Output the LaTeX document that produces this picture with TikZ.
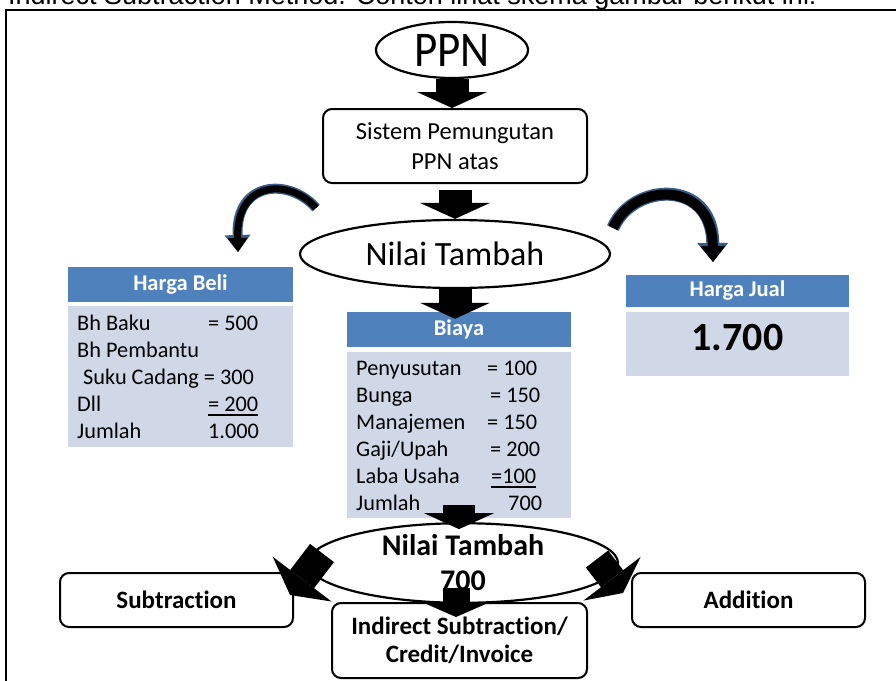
\documentclass[tikz,border=0pt]{standalone}
\usepackage{fontspec}
\usepackage{graphicx}
\setmainfont{Carlito}[Ligatures=NoCommon]
\newfontfamily\arialf{Liberation Sans}
\usetikzlibrary{arrows.meta,shapes.geometric,calc}
\definecolor{hdr}{HTML}{4F81BD}
\definecolor{bdy}{HTML}{D0D8E8}
\definecolor{outl}{HTML}{385D8A}
\newcommand\fs[2]{\fontsize{#1}{#2}\selectfont}
\newcommand\myul[1]{\setbox0\hbox{#1}\rlap{\rule[-4.5pt]{\wd0}{1.8pt}}\box0}
\begin{document}
\begin{tikzpicture}[x=1pt,y=-1pt,
  frame/.style={line width=2pt},
  oval/.style={ellipse, draw, line width=2.2pt, fill=white, inner sep=0pt},
  rbox/.style={rectangle, rounded corners=9pt, draw, line width=2pt, fill=white, inner sep=0pt, align=center},
  hbox/.style={rectangle, fill=hdr, text=white, font=\bfseries\fs{22.5}{26}, inner sep=0pt},
  bbox/.style={rectangle, fill=bdy, inner sep=0pt},
  tabtxt/.style={anchor=north west, inner sep=0pt, font=\fs{22.3}{27}},
  blockarrow/.style={line width=33pt, -{Triangle[length=16pt 0 0, width=70pt 0 0, line width=0pt]}},
  sidearrow/.style={line width=30pt, -{Triangle[length=20pt 0 0, width=74pt 0 0, line width=0pt]}},
  curvebgL/.style={draw=outl, line width=10pt, -{Triangle[length=17pt 0 0, width=26pt 0 0, line width=0pt]}},
  curvefgL/.style={draw=black, line width=7pt, -{Triangle[length=14pt 0 0, width=20pt 0 0, line width=0pt]}},
  curvebgR/.style={draw=outl, line width=13pt, -{Triangle[length=19pt 0 0, width=31pt 0 0, line width=0pt]}},
  curvefgR/.style={draw=black, line width=10pt, -{Triangle[length=16pt 0 0, width=25pt 0 0, line width=0pt]}}
]
\useasboundingbox (0,0) rectangle (896,680);
\node[anchor=base west, inner sep=0pt, font=\arialf\fs{27}{32}] (title) at (8,5) {Indirect Subtraction Method. Contoh lihat skema gambar berikut ini:};
\draw[frame] (900,10) -- (6,10) -- (6,690);

% tables
\node[hbox, minimum width=225pt, minimum height=35pt] (belih) at (180.5,284.5) {Harga Beli};
\node[bbox, minimum width=225pt, minimum height=141pt] (belib) at (180.5,376.5) {};
\node[tabtxt] (belit) at (77,311) {\begin{tabular}{@{}p{131pt}@{}l@{}}Bh Baku & = 500\\ Bh Pembantu & \\ \multicolumn{2}{@{}l@{}}{\hspace*{6pt}Suku Cadang = 300}\\ Dll & \myul{= 200}\\ Jumlah & 1.000\end{tabular}};

\node[hbox, minimum width=224pt, minimum height=35pt] (biayah) at (459,329.5) {Biaya};
\node[bbox, minimum width=224pt, minimum height=166pt] (biayab) at (459,435) {};
\node[tabtxt] (biayat) at (356,356) {\begin{tabular}{@{}p{131pt}@{}l@{}}Penyusutan & = 100\\ Bunga & \hspace*{3pt}= 150\\ Manajemen & = 150\\ Gaji/Upah & \hspace*{3pt}= 200\\ Laba Usaha & \hspace*{4pt}\myul{=100}\\ Jumlah & \hspace*{21pt}700\end{tabular}};

\node[hbox, minimum width=223pt, minimum height=32pt] (jualh) at (737.5,291) {Harga Jual};
\node[bbox, minimum width=223pt, minimum height=64pt] (jualb) at (737.5,344) {};
\node[inner sep=0pt, font=\bfseries\fs{40}{48}] (jualv) at (737.5,338) {1.700};

% ellipses and boxes
\node[oval, minimum width=152pt, minimum height=56pt, font=\fs{50}{60}] (ppn) at (452,50) {\scalebox{0.9}[1]{PPN}};
\node[rbox, minimum width=264pt, minimum height=74pt, font=\fs{24.5}{30}] (sistem) at (455,146) {Sistem Pemungutan\\PPN atas};
\node[oval, minimum width=310pt, minimum height=68pt, font=\fs{34}{40}] (nt1) at (455,254) {Nilai Tambah};
\node[oval, minimum width=310pt, minimum height=68pt, font=\bfseries\fs{30}{35}, align=center] (nt2) at (463,563) {Nilai Tambah\\700};
\node[rbox, minimum width=233pt, minimum height=54pt, font=\bfseries\fs{25}{29}] (subtr) at (176.5,600) {Subtraction};
\node[rbox, minimum width=233pt, minimum height=54pt, font=\bfseries\fs{25}{29}] (addit) at (748.5,600) {Addition};
\node[rbox, minimum width=255pt, minimum height=75pt, font=\bfseries\fs{25}{28}] (indir) at (459.5,640.5) {Indirect Subtraction/\\Credit/Invoice};

% block arrows
\draw[blockarrow] (ppn.south) -- (ppn.south |- sistem.north);
\draw[blockarrow] ($(sistem.south)+(0,6)$) -- (sistem.south |- nt1.north);
\draw[blockarrow] (nt1.south) -- ($(nt1.south |- biayah.north)+(0,7)$);
\coordinate (b4) at (459,505);
\draw[blockarrow, line width=32pt] (b4) -- ($(b4 |- nt2.north)+(0,7)$);
\coordinate (b5) at (456,588);
\draw[blockarrow, line width=27pt, -{Triangle[length=14pt 0 0, width=64pt 0 0, line width=0pt]}] (b5) -- ($(b5 |- indir.north)+(0,15)$);
\coordinate (sl) at (322,553);
\draw[sidearrow] (sl) -- ($(subtr.north east)+(-4,23)$);
\coordinate (sr) at (597,559);
\draw[sidearrow, line width=28pt, -{Triangle[length=18pt 0 0, width=72pt 0 0, line width=0pt]}] (sr) -- ($(addit.north west)+(-8,21)$);

% curved arrows
\coordinate (cl1) at (316,208);
\coordinate (cl2) at (238,252);
\draw[curvebgL] (cl1) .. controls (290,178) and (236,180) .. (cl2);
\draw[curvefgL] (cl1) .. controls (290,178) and (236,180) .. (cl2);
\coordinate (cr1) at (613,228);
\coordinate (cr2) at (713,262);
\draw[curvebgR] (cr1) .. controls (632,183) and (712,178) .. (cr2);
\draw[curvefgR] (cr1) .. controls (632,183) and (712,178) .. (cr2);
\end{tikzpicture}
\end{document}
